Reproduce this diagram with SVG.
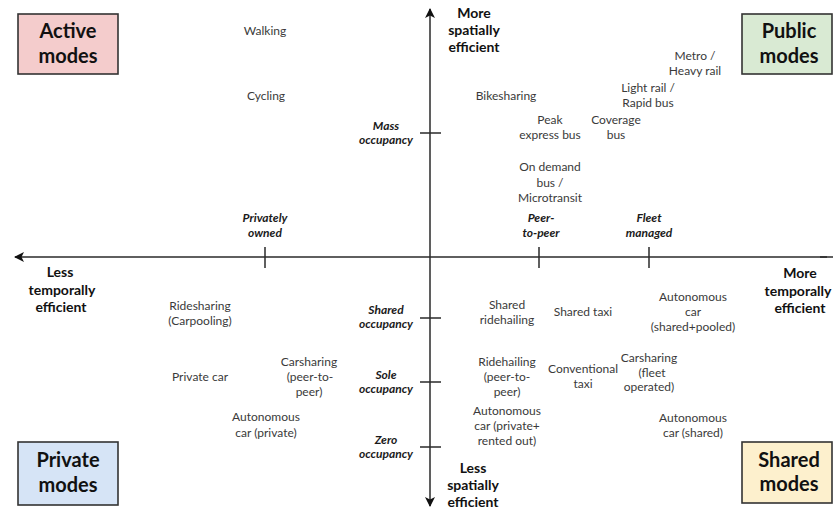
<svg xmlns="http://www.w3.org/2000/svg" width="833" height="510" viewBox="0 0 833 510">
<style>
.lbl{font-family:Lato,"Open Sans","Liberation Sans",sans-serif;font-size:12px;fill:#3a3a3a;text-anchor:middle}
.occ{font-family:Lato,"Open Sans","Liberation Sans",sans-serif;font-size:12px;font-weight:bold;font-style:italic;fill:#1a1a1a;text-anchor:middle}
.ax{font-family:Lato,"Open Sans","Liberation Sans",sans-serif;font-size:14px;font-weight:bold;fill:#111;text-anchor:middle}
.ttl{font-family:Lato,"Open Sans","Liberation Sans",sans-serif;font-size:20px;font-weight:bold;fill:#111;text-anchor:middle}
.box{stroke:#333;stroke-width:1.6}
.axis{stroke:#2a2a2a;stroke-width:1.5;fill:none}
</style>
<defs>
<marker id="arr" viewBox="0 0 10 10" refX="9" refY="5" markerWidth="10" markerHeight="10" markerUnits="userSpaceOnUse" orient="auto-start-reverse">
<path d="M0,0 L10,5 L0,10 L2.5,5 Z" fill="#111"/>
</marker>
</defs>
<rect width="833" height="510" fill="#fff"/>

<g id="connectors">
<line class="axis" x1="827" y1="257" x2="15" y2="257" marker-end="url(#arr)"/>
<line class="axis" x1="430" y1="506" x2="430" y2="9" marker-start="url(#arr)" marker-end="url(#arr)"/>
<line class="axis" x1="833" y1="257" x2="820" y2="257"/>
<g class="axis">
<line x1="265" y1="247" x2="265" y2="268"/>
<line x1="539" y1="247" x2="539" y2="268"/>
<line x1="649" y1="247" x2="649" y2="268"/>
<line x1="420" y1="133" x2="441" y2="133"/>
<line x1="420" y1="318" x2="441" y2="318"/>
<line x1="420" y1="382" x2="441" y2="382"/>
<line x1="420" y1="447" x2="441" y2="447"/>
</g>
</g>

<g id="active-modes"><rect class="box" x="18" y="14" width="100" height="60" fill="#f4cccc"/><text class="ttl" x="68" y="38">Active</text><text class="ttl" x="68" y="63">modes</text></g>
<g id="public-modes"><rect class="box" x="742" y="14" width="90" height="60" fill="#d9ead3"/><text class="ttl" x="789" y="38">Public</text><text class="ttl" x="789" y="63">modes</text></g>
<g id="private-modes"><rect class="box" x="18" y="442" width="100" height="63" fill="#d6e4f6"/><text class="ttl" x="68" y="467">Private</text><text class="ttl" x="68" y="492">modes</text></g>
<g id="shared-modes"><rect class="box" x="742" y="442" width="90" height="61" fill="#fdf0cd"/><text class="ttl" x="789" y="467">Shared</text><text class="ttl" x="789" y="491">modes</text></g>

<g id="axis-labels">
<text class="ax" x="474" y="18">More</text><text class="ax" x="474" y="35">spatially</text><text class="ax" x="474" y="52">efficient</text>
<text class="ax" x="473" y="473">Less</text><text class="ax" x="473" y="490">spatially</text><text class="ax" x="473" y="507">efficient</text>
<text class="ax" x="60" y="277">Less</text><text class="ax" x="62" y="295">temporally</text><text class="ax" x="61" y="312">efficient</text>
<text class="ax" x="800" y="278">More</text><text class="ax" x="798" y="296">temporally</text><text class="ax" x="800" y="313">efficient</text>
</g>

<g id="dimension-labels">
<text class="occ" x="386" y="130">Mass</text><text class="occ" x="386" y="144">occupancy</text>
<text class="occ" x="386" y="314">Shared</text><text class="occ" x="386" y="328">occupancy</text>
<text class="occ" x="386" y="379">Sole</text><text class="occ" x="386" y="393">occupancy</text>
<text class="occ" x="386" y="444">Zero</text><text class="occ" x="386" y="458">occupancy</text>
<text class="occ" x="265" y="222">Privately</text><text class="occ" x="265" y="237">owned</text>
<text class="occ" x="541" y="222">Peer-</text><text class="occ" x="541" y="237">to-peer</text>
<text class="occ" x="649" y="222">Fleet</text><text class="occ" x="649" y="237">managed</text>
</g>

<g id="walking"><text class="lbl" x="265" y="35">Walking</text></g>
<g id="cycling"><text class="lbl" x="266" y="100">Cycling</text></g>
<g id="bikesharing"><text class="lbl" x="506" y="100">Bikesharing</text></g>
<g id="metro"><text class="lbl" x="695" y="60">Metro /</text><text class="lbl" x="695" y="75">Heavy rail</text></g>
<g id="light-rail"><text class="lbl" x="648" y="92">Light rail /</text><text class="lbl" x="648" y="107">Rapid bus</text></g>
<g id="peak-express"><text class="lbl" x="550" y="124">Peak</text><text class="lbl" x="550" y="139">express bus</text></g>
<g id="coverage-bus"><text class="lbl" x="616" y="124">Coverage</text><text class="lbl" x="616" y="139">bus</text></g>
<g id="on-demand"><text class="lbl" x="550" y="171">On demand</text><text class="lbl" x="550" y="187">bus /</text><text class="lbl" x="550" y="202">Microtransit</text></g>
<g id="ridesharing"><text class="lbl" x="200" y="310">Ridesharing</text><text class="lbl" x="200" y="325">(Carpooling)</text></g>
<g id="private-car"><text class="lbl" x="200" y="381">Private car</text></g>
<g id="carsharing-p2p"><text class="lbl" x="309" y="366">Carsharing</text><text class="lbl" x="310" y="381">(peer-to-</text><text class="lbl" x="309" y="396">peer)</text></g>
<g id="autonomous-private"><text class="lbl" x="266" y="421">Autonomous</text><text class="lbl" x="266" y="437">car (private)</text></g>
<g id="shared-ridehailing"><text class="lbl" x="507" y="309">Shared</text><text class="lbl" x="507" y="324">ridehailing</text></g>
<g id="shared-taxi"><text class="lbl" x="583" y="316">Shared taxi</text></g>
<g id="autonomous-pooled"><text class="lbl" x="693" y="301">Autonomous</text><text class="lbl" x="693" y="316">car</text><text class="lbl" x="693" y="331">(shared+pooled)</text></g>
<g id="ridehailing"><text class="lbl" x="507" y="366">Ridehailing</text><text class="lbl" x="507" y="381">(peer-to-</text><text class="lbl" x="507" y="396">peer)</text></g>
<g id="conventional-taxi"><text class="lbl" x="583" y="373">Conventional</text><text class="lbl" x="583" y="388">taxi</text></g>
<g id="carsharing-fleet"><text class="lbl" x="649" y="362">Carsharing</text><text class="lbl" x="652" y="377">(fleet</text><text class="lbl" x="649" y="391">operated)</text></g>
<g id="autonomous-rented"><text class="lbl" x="507" y="415">Autonomous</text><text class="lbl" x="507" y="430">car (private+</text><text class="lbl" x="507" y="445">rented out)</text></g>
<g id="autonomous-shared"><text class="lbl" x="693" y="422">Autonomous</text><text class="lbl" x="693" y="437">car (shared)</text></g>
</svg>
